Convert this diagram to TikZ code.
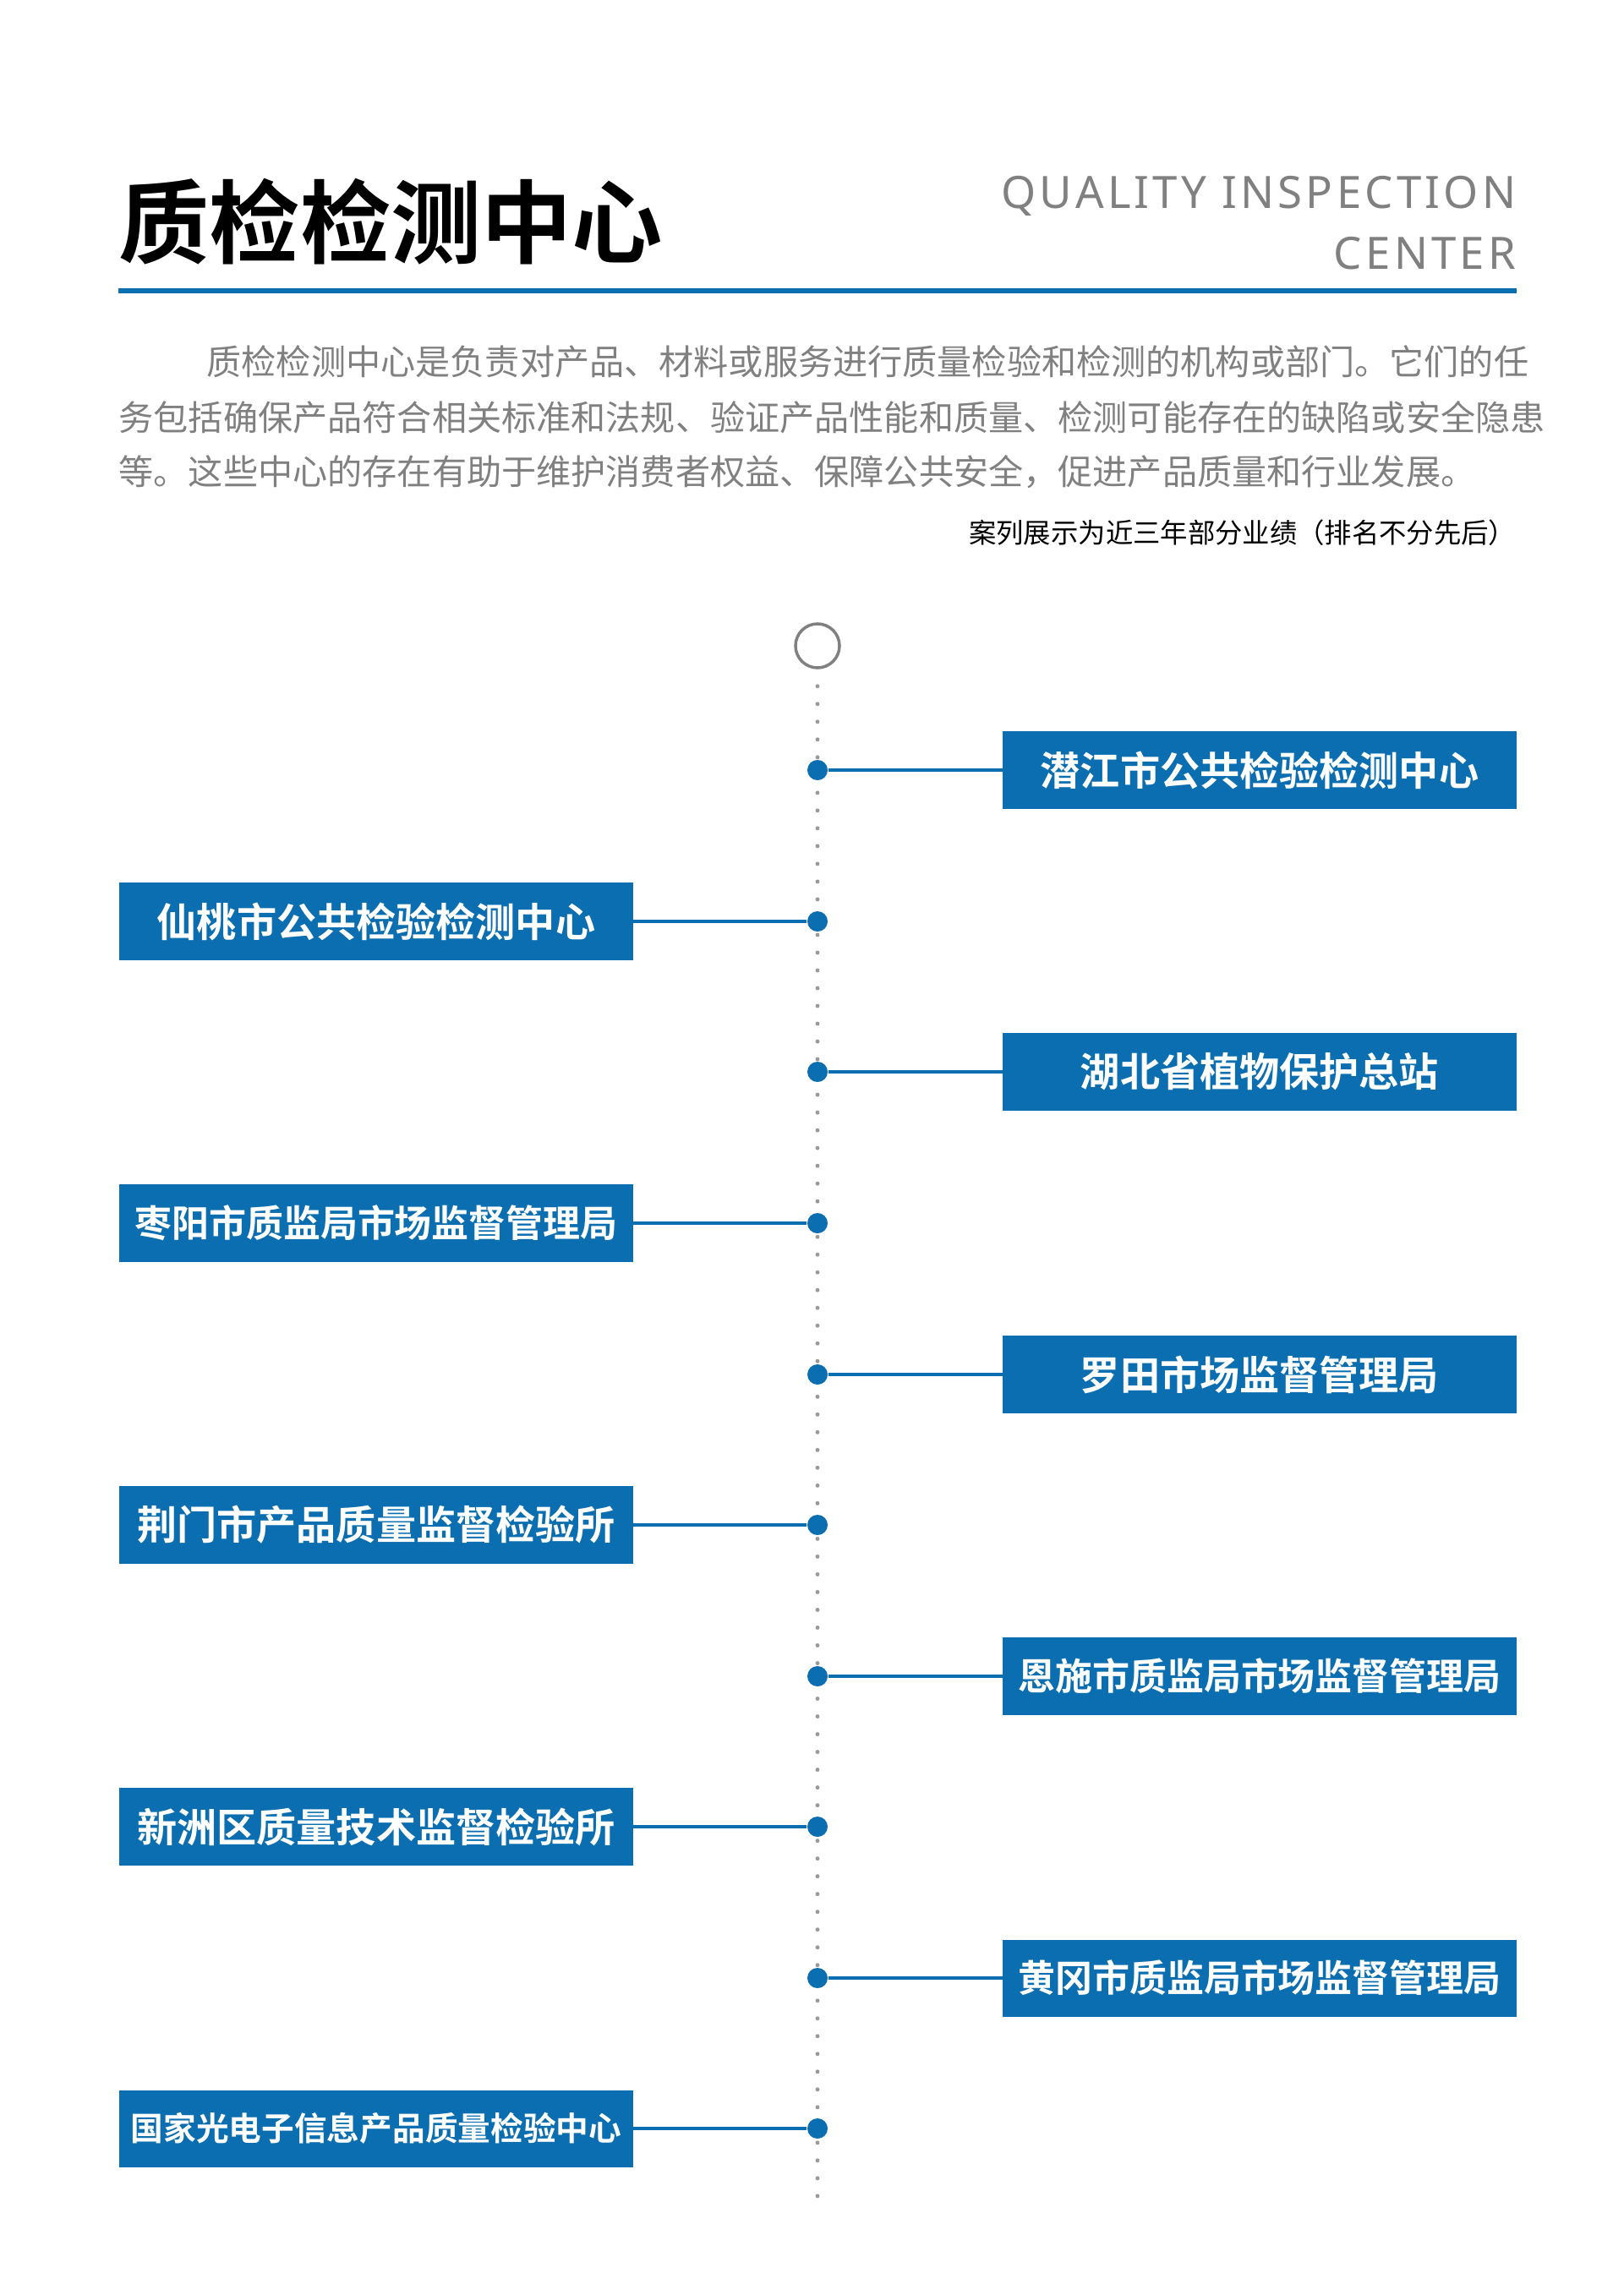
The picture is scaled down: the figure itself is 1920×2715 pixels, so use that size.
\documentclass[tikz,border=0pt]{standalone}
\usepackage{fontspec}
\setmainfont{Noto Sans CJK SC}
\newfontfamily\cjkbold{Noto Sans CJK SC Bold}
\newfontfamily\latinfont[LetterSpace=8]{Noto Sans}
\definecolor{qblue}{HTML}{0A6EB0}
\definecolor{qgray}{HTML}{808080}
\definecolor{qdot}{HTML}{9A9A9A}
\tikzset{
  orgbox/.style={fill=qblue, text=white, minimum width=6.07cm, minimum height=0.91cm,
    inner sep=0pt, font=\cjkbold\fontsize{13.4}{14}\selectfont},
  marker/.style={circle, fill=qblue, minimum size=0.24cm, inner sep=0pt},
  link/.style={qblue, line width=0.9pt}
}
\begin{document}
\begin{tikzpicture}[x=0.01cm, y=-0.01cm]
  \useasboundingbox (0,0) rectangle (1920,2715);
  % header
  \node[anchor=west, inner sep=0pt, font=\cjkbold\fontsize{30.5}{32}\selectfont] (title) at (140,262) {质检检测中心};
  \node[anchor=east, inner sep=0pt, text=qgray, font=\latinfont\fontsize{15}{16}\selectfont] (en1) at (1794,232) {QUALITY INSPECTION};
  \node[anchor=east, inner sep=0pt, text=qgray, font=\latinfont\fontsize{15}{16}\selectfont] (en2) at (1794,300) {CENTER};
  \draw[qblue, line width=1.5pt] (140,344) -- (1794,344);
  % intro
  \node[anchor=west, inner sep=0pt, text=qgray, font=\fontsize{11.7}{12}\selectfont] (p1) at (244,428) {质检检测中心是负责对产品、材料或服务进行质量检验和检测的机构或部门。它们的任};
  \node[anchor=west, inner sep=0pt, text=qgray, font=\fontsize{11.7}{12}\selectfont] (p2) at (140,494) {务包括确保产品符合相关标准和法规、验证产品性能和质量、检测可能存在的缺陷或安全隐患};
  \node[anchor=west, inner sep=0pt, text=qgray, font=\fontsize{11.7}{12}\selectfont] (p3) at (140,558) {等。这些中心的存在有助于维护消费者权益、保障公共安全，促进产品质量和行业发展。};
  \node[anchor=east, inner sep=0pt, font=\fontsize{9.2}{10}\selectfont] (note) at (1794,630) {案列展示为近三年部分业绩（排名不分先后）};
  % timeline
  \node[circle, draw=qgray, line width=1pt, minimum size=0.52cm, inner sep=0pt] (top) at (967,764) {};
  \coordinate (bottom) at (967,2618);
  \draw[qdot, line width=1.4pt, line cap=round, dash pattern=on 0pt off 0.21cm] ([yshift=-0.2cm]top.south) -- (bottom);
  \node[marker] (m1) at (967,911) {};
  \node[marker] (m2) at (967,1090) {};
  \node[marker] (m3) at (967,1268) {};
  \node[marker] (m4) at (967,1447) {};
  \node[marker] (m5) at (967,1626) {};
  \node[marker] (m6) at (967,1804) {};
  \node[marker] (m7) at (967,1983) {};
  \node[marker] (m8) at (967,2161) {};
  \node[marker] (m9) at (967,2340) {};
  \node[marker] (m10) at (967,2518) {};
  \node[orgbox] (b1) at (1490,911) {潜江市公共检验检测中心};
  \node[orgbox] (b2) at (445,1090) {仙桃市公共检验检测中心};
  \node[orgbox] (b3) at (1490,1268) {湖北省植物保护总站};
  \node[orgbox, font=\cjkbold\fontsize{12.5}{13}\selectfont] (b4) at (445,1447) {枣阳市质监局市场监督管理局};
  \node[orgbox] (b5) at (1490,1626) {罗田市场监督管理局};
  \node[orgbox] (b6) at (445,1804) {荆门市产品质量监督检验所};
  \node[orgbox, font=\cjkbold\fontsize{12.5}{13}\selectfont] (b7) at (1490,1983) {恩施市质监局市场监督管理局};
  \node[orgbox] (b8) at (445,2161) {新洲区质量技术监督检验所};
  \node[orgbox, font=\cjkbold\fontsize{12.5}{13}\selectfont] (b9) at (1490,2340) {黄冈市质监局市场监督管理局};
  \node[orgbox, font=\cjkbold\fontsize{11}{12}\selectfont] (b10) at (445,2518) {国家光电子信息产品质量检验中心};
  \draw[link] (m1) -- (b1);
  \draw[link] (m2) -- (b2);
  \draw[link] (m3) -- (b3);
  \draw[link] (m4) -- (b4);
  \draw[link] (m5) -- (b5);
  \draw[link] (m6) -- (b6);
  \draw[link] (m7) -- (b7);
  \draw[link] (m8) -- (b8);
  \draw[link] (m9) -- (b9);
  \draw[link] (m10) -- (b10);
\end{tikzpicture}
\end{document}
